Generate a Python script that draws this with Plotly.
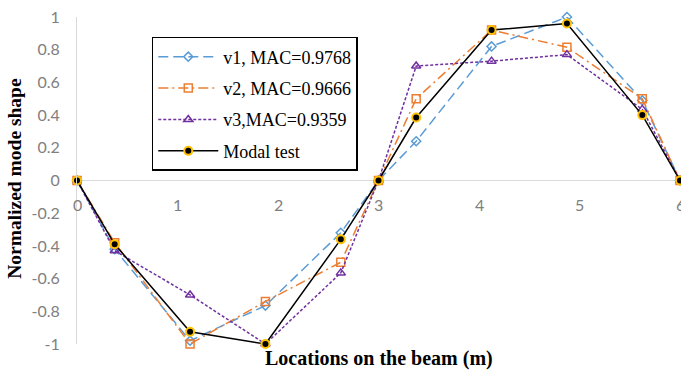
import plotly.graph_objects as go

x_loc = [0, 0.375, 1.125, 1.875, 2.625, 3, 3.375, 4.125, 4.875, 5.625, 6]
v1 = [0, -0.42, -0.98, -0.765, -0.32, 0, 0.24, 0.82, 1.0, 0.49, 0]
v2 = [0, -0.38, -1.0, -0.74, -0.50, 0, 0.50, 0.92, 0.815, 0.50, 0]
v3 = [0, -0.43, -0.70, -1.0, -0.565, 0, 0.70, 0.73, 0.77, 0.435, 0]
modal = [0, -0.39, -0.925, -1.0, -0.36, 0, 0.385, 0.92, 0.96, 0.40, 0]

names = ["v1, MAC=0.9768", "v2, MAC=0.9666", "v3,MAC=0.9359", "Modal test"]
y_tick_vals = [-1, -0.8, -0.6, -0.4, -0.2, 0, 0.2, 0.4, 0.6, 0.8, 1]
y_tick_text = ["-1", "-0.8", "-0.6", "-0.4", "-0.2", "0", "0.2", "0.4", "0.6", "0.8", "1"]
x_tick_vals = [0, 1, 2, 3, 4, 5, 6]
x_tick_text = ["0", "1", "2", "3", "4", "5", "6"]

fig = go.Figure()
fig.add_trace(go.Scatter(x=x_loc, y=v1, name=names[0], mode="lines+markers", legendgroup="a",
                         line=dict(color="#5B9BD5", width=1.5, dash="10px,5px"),
                         marker=dict(symbol="diamond-open", size=7, color="#5B9BD5", line=dict(width=1.5)),
                         cliponaxis=False))
fig.add_trace(go.Scatter(x=x_loc, y=v2, name=names[1], mode="lines+markers", legendgroup="b",
                         line=dict(color="#ED7D31", width=1.5, dash="10px,4px,2px,4px"),
                         marker=dict(symbol="square-open", size=8, color="#ED7D31", line=dict(width=1.5)),
                         cliponaxis=False))
fig.add_trace(go.Scatter(x=x_loc, y=v3, name=names[2], mode="lines+markers", legendgroup="c",
                         line=dict(color="#7030A0", width=1.5, dash="3px,2px"),
                         marker=dict(symbol="triangle-up-open", size=8, color="#7030A0", line=dict(width=1.5)),
                         cliponaxis=False))
fig.add_trace(go.Scatter(x=x_loc, y=modal, name=names[3], mode="lines+markers", legendgroup="d",
                         line=dict(color="black", width=1.5),
                         marker=dict(symbol="circle", size=8, color="black", line=dict(width=2, color="#FFC000")),
                         cliponaxis=False))

tick_annotations = [
    dict(text=t, x=v, y=0, xref="x", yref="y", xanchor="center", yanchor="middle",
         yshift=-24, showarrow=False, font=dict(family="Lato", size=16, color="#808080"))
    for v, t in zip(x_tick_vals, x_tick_text)
]

fig.update_layout(
    width=681, height=373,
    margin=dict(l=77, r=1, t=17, b=29),
    paper_bgcolor="white", plot_bgcolor="white",
    showlegend=True,
    legend=dict(x=0.124, y=0.939, xanchor="left", yanchor="top",
                bgcolor="white", bordercolor="black", borderwidth=1.5,
                font=dict(family="Liberation Serif", size=18, color="black"),
                traceorder="grouped", tracegroupgap=5, itemwidth=60),
    xaxis=dict(range=[0, 6], showline=False, showgrid=False, zeroline=False,
               ticks="", showticklabels=False),
    yaxis=dict(range=[-1, 1], tickvals=y_tick_vals, ticktext=y_tick_text,
               showline=True, linecolor="#d9d9d9", linewidth=1,
               showgrid=False, zeroline=True, zerolinecolor="#d9d9d9", zerolinewidth=1,
               ticks="", ticklabelstandoff=13,
               tickfont=dict(family="Lato", size=16, color="#808080")),
    annotations=tick_annotations + [
        dict(text="<b>Locations on the beam (m)</b>", xref="paper", yref="paper", x=0.5, y=-0.043,
             xanchor="center", yanchor="middle", showarrow=False,
             font=dict(family="Liberation Serif", size=20, color="black")),
        dict(text="<b>Normalized mode shape</b>", xref="paper", yref="paper", x=-0.103, y=0.508,
             xanchor="center", yanchor="middle", showarrow=False, textangle=-90,
             font=dict(family="Liberation Serif", size=19.5, color="black")),
    ],
)

fig.write_html("out.html")
